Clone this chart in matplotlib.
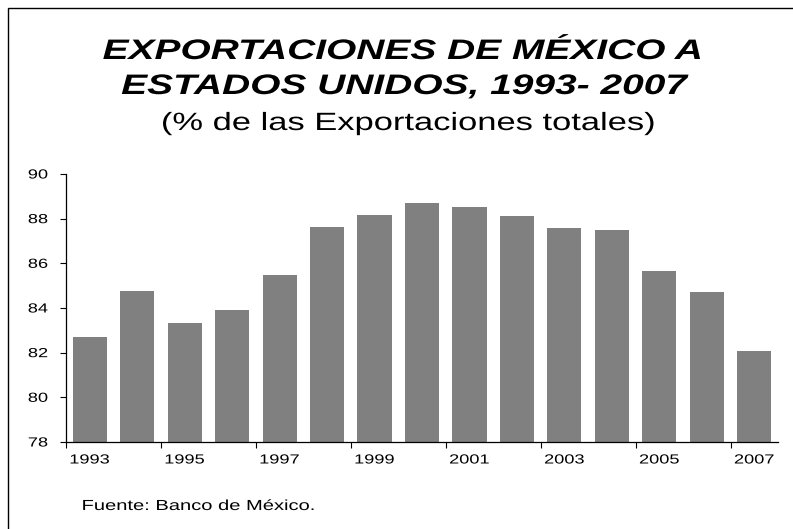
import numpy as np
import matplotlib
matplotlib.use("Agg")
import matplotlib.pyplot as plt
from matplotlib.patches import Rectangle
from matplotlib.patheffects import AbstractPathEffect
from matplotlib.transforms import Affine2D

plt.rcParams['font.family'] = ['Liberation Sans', 'DejaVu Sans']

# datos
years = list(range(1993, 2008))
share = [82.70, 84.76, 83.33, 83.91, 85.48, 87.63, 88.17, 88.70,
         88.52, 88.12, 87.58, 87.49, 85.66, 84.72, 82.08]
yticks = [78, 80, 82, 84, 86, 88, 90]

SX = 1.38  # la imagen original esta estirada a lo ancho


class Ensanchar(AbstractPathEffect):
    # estira el texto en horizontal alrededor de un ancla
    def __init__(self, sx=SX, anchor='center'):
        super().__init__()
        self.sx = sx
        self.anchor = anchor

    def draw_path(self, renderer, gc, tpath, affine, rgbFace=None):
        ext = tpath.get_extents(affine)
        if self.anchor == 'left':
            x0 = ext.x0
        elif self.anchor == 'right':
            x0 = ext.x1
        else:
            x0 = (ext.x0 + ext.x1) / 2
        t = affine + Affine2D().translate(-x0, 0).scale(self.sx, 1).translate(x0, 0)
        renderer.draw_path(gc, tpath, t, rgbFace)


fig = plt.figure(figsize=(7.93, 5.29), dpi=100)
ax = fig.add_axes([66 / 793, 1 - 442 / 529, (778 - 66) / 793, (442 - 174) / 529])

x = np.arange(len(years))
ax.bar(x, share, width=0.72, color='#808080', zorder=2)

ax.set_xlim(-0.5, len(years) - 0.5)
ax.set_ylim(78, 90)
ax.set_yticks(yticks)
ax.set_yticklabels([str(v) for v in yticks], fontsize=9.5)

# marcas entre categorias, etiquetas cada dos anos
ax.set_xticks(np.arange(-0.5, len(years) - 1, 2))
ax.set_xticklabels([])
ax.set_xticks(x[::2], minor=True)
ax.set_xticklabels([str(y) for y in years[::2]], minor=True, fontsize=9.5)
ax.tick_params(axis='x', which='major', length=4, direction='out', width=0.8)
ax.tick_params(axis='x', which='minor', length=0, pad=9)
ax.tick_params(axis='y', length=4, direction='out', width=0.8, pad=9)

for t in ax.xaxis.get_minor_ticks():
    t.label1.set_path_effects([Ensanchar(anchor='center')])
for t in ax.yaxis.get_major_ticks():
    t.label1.set_path_effects([Ensanchar(anchor='right')])

for s in ['top', 'right']:
    ax.spines[s].set_visible(False)
for s in ['left', 'bottom']:
    ax.spines[s].set_linewidth(0.9)

t1 = fig.text(403 / 793, 1 - 52 / 529, 'EXPORTACIONES DE MÉXICO A', ha='center', va='center',
              fontsize=20.3, fontweight='bold', fontstyle='italic')
t2 = fig.text(405 / 793, 1 - 87 / 529, 'ESTADOS UNIDOS, 1993- 2007', ha='center', va='center',
              fontsize=20.3, fontweight='bold', fontstyle='italic')
t3 = fig.text(408 / 793, 1 - 123 / 529, '(% de las Exportaciones totales)', ha='center', va='center',
              fontsize=18)
t4 = fig.text(82 / 793, 1 - 506 / 529, 'Fuente: Banco de México.', ha='left', va='center',
              fontsize=10.5)
for t in (t1, t2, t3):
    t.set_path_effects([Ensanchar(anchor='center')])
t4.set_path_effects([Ensanchar(anchor='left')])

# marco exterior
fig.patches.append(Rectangle((8 / 793, -0.1), 1.2, 1 - 8 / 529 + 0.1,
                             transform=fig.transFigure, fill=False,
                             edgecolor='black', linewidth=1))

fig.savefig('out.png', dpi=100)
